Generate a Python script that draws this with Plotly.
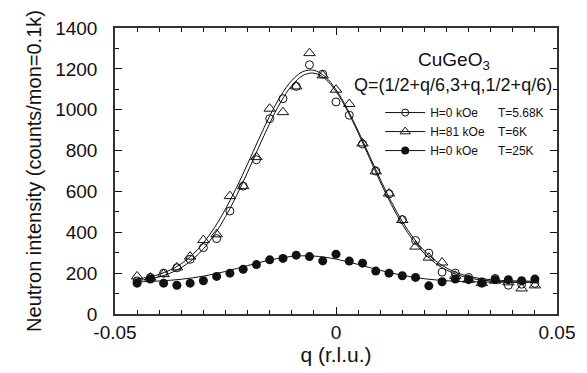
import plotly.graph_objects as go

# ---- data ----
q = [-0.045, -0.042, -0.039, -0.036, -0.033, -0.030, -0.027, -0.024, -0.021, -0.018,
     -0.015, -0.012, -0.009, -0.006, -0.003, 0.0, 0.003, 0.006, 0.009, 0.012,
     0.015, 0.018, 0.021, 0.024, 0.027, 0.030, 0.033, 0.036, 0.039, 0.042, 0.045]

h0_568K = [162, 179, 200, 226, 268, 325, 369, 504, 626, 755,
           956, 1054, 1114, 1220, 1174, 1038, 973, 832, 700, 588,
           462, 360, 298, 205, 200, 179, 158, 174, 141, 146, 150]

h81_6K = [184, 178, 195, 228, 281, 362, 390, 577, 626, 768,
          1005, 988, 1114, 1277, 1168, 1098, 1028, 835, 698, 590,
          460, 330, 276, 252, 187, 168, 151, 163, 155, 125, 140]

h0_25K = [151, 171, 151, 141, 151, 163, 184, 200, 219, 242,
          265, 272, 288, 281, 260, 293, 259, 249, 210, 200,
          187, 179, 138, 158, 171, 168, 151, 168, 168, 163, 171]

fit_q = [-0.045, -0.0425, -0.04, -0.0375, -0.035, -0.0325, -0.03, -0.0275, -0.025, -0.0225,
         -0.02, -0.0175, -0.015, -0.0125, -0.01, -0.0075, -0.005, -0.0025, 0.0, 0.0025,
         0.005, 0.0075, 0.01, 0.0125, 0.015, 0.0175, 0.02, 0.0225, 0.025, 0.0275,
         0.03, 0.0325, 0.035, 0.0375, 0.04, 0.0425, 0.045]

fit_h0_568K = [163.8, 170.7, 182.1, 200.0, 227.0, 265.7, 319.0, 389.0, 476.3, 579.4,
               694.3, 815.2, 933.2, 1037.6, 1118.5, 1167.6, 1179.2, 1152.3, 1089.6, 998.2,
               887.2, 767.0, 647.4, 536.3, 439.1, 358.9, 295.9, 248.7, 215.0, 191.9,
               176.9, 167.5, 161.9, 158.6, 156.8, 155.9, 155.4]

fit_h81_6K = [171.8, 180.4, 194.3, 215.4, 246.3, 289.7, 348.0, 422.6, 513.6, 619.2,
              735.1, 854.6, 968.9, 1068.1, 1143.1, 1186.3, 1193.0, 1162.7, 1098.3, 1006.7,
              896.8, 778.2, 660.1, 550.1, 453.3, 372.7, 308.9, 260.4, 225.2, 200.9,
              184.7, 174.4, 168.1, 164.3, 162.3, 161.1, 160.6]

fit_h0_25K = [157.5, 159.1, 161.6, 165.1, 170.1, 176.8, 185.4, 196.0, 208.4, 222.3,
              236.8, 251.1, 264.1, 274.6, 281.8, 284.9, 283.6, 278.0, 268.6, 256.5,
              242.6, 228.0, 213.8, 200.8, 189.5, 180.0, 172.6, 166.9, 162.8, 160.0,
              158.0, 156.8, 156.0, 155.6, 155.3, 155.1, 155.1]

x_ticks = [-0.05, 0, 0.05]
x_ticktext = ["-0.05", "0", "0.05"]

legend_names = ["H=0 kOe\u00a0\u00a0\u00a0\u00a0\u00a0\u00a0T=5.68K",
                "H=81 kOe\u00a0\u00a0\u00a0\u00a0T=6K",
                "H=0 kOe\u00a0\u00a0\u00a0\u00a0\u00a0\u00a0T=25K"]

FONT = "Liberation Sans, Arial, Helvetica, sans-serif"
INK = "#111111"

fig = go.Figure()

# fitted curves
for fy in (fit_h0_568K, fit_h81_6K, fit_h0_25K):
    fig.add_trace(go.Scatter(x=fit_q, y=fy, mode="lines", line=dict(color=INK, width=1, shape="spline"),
                             showlegend=False, hoverinfo="skip"))

# data points
marker_specs = [
    dict(symbol="circle-open", size=8, color=INK, line=dict(width=1, color=INK)),
    dict(symbol="triangle-up-open", size=10, color=INK, line=dict(width=1, color=INK)),
    dict(symbol="circle", size=9, color=INK, line=dict(width=0, color=INK)),
]
for ys, ms in zip((h0_568K, h81_6K, h0_25K), marker_specs):
    fig.add_trace(go.Scatter(x=q, y=ys, mode="markers", marker=ms, showlegend=False))

# legend entries (line + marker)
for name, ms in zip(legend_names, marker_specs):
    lm = dict(ms)
    lm["size"] = ms["size"] - 1
    fig.add_trace(go.Scatter(x=[None], y=[None], mode="lines+markers", name=name,
                             line=dict(color=INK, width=1), marker=lm))

fig.update_layout(
    width=587, height=373,
    margin=dict(l=115, r=22, t=28, b=58),
    paper_bgcolor="white", plot_bgcolor="white",
    font=dict(family=FONT, color=INK, size=18),
    legend=dict(x=0.60, y=0.755, xanchor="left", yanchor="top",
                bgcolor="rgba(0,0,0,0)", font=dict(size=12, family=FONT),
                itemwidth=40, tracegroupgap=0),
    annotations=[
        dict(text="CuGeO<sub>3</sub>", xref="paper", yref="paper", x=0.767, y=0.885,
             xanchor="center", yanchor="middle", showarrow=False, font=dict(size=19, family=FONT)),
        dict(text="Q=(1/2+q/6,3+q,1/2+q/6)", xref="paper", yref="paper", x=0.993, y=0.801,
             xanchor="right", yanchor="middle", showarrow=False, font=dict(size=18, family=FONT)),
    ],
)

fig.update_xaxes(
    range=[-0.05, 0.05], tickmode="array", tickvals=x_ticks, ticktext=x_ticktext,
    ticks="inside", ticklen=7, tickwidth=1.2, tickcolor=INK,
    minor=dict(tickmode="linear", tick0=-0.05, dtick=0.005, ticks="inside", ticklen=4,
               tickcolor=INK, tickwidth=1),
    showline=True, linecolor="#333333", linewidth=1.5, mirror="ticks",
    showgrid=False, zeroline=False,
    tickfont=dict(size=19), ticklabelstandoff=0,
    title=dict(text="q (r.l.u.)", font=dict(size=21), standoff=4),
)
fig.update_yaxes(
    range=[0, 1400], dtick=200, tick0=0,
    ticks="inside", ticklen=7, tickwidth=1.2, tickcolor=INK,
    minor=dict(dtick=100, ticks="inside", ticklen=4, tickcolor=INK, tickwidth=1),
    showline=True, linecolor="#333333", linewidth=1.5, mirror="ticks",
    showgrid=False, zeroline=False,
    tickfont=dict(size=19), ticklabelstandoff=12,
    title=dict(text="Neutron intensity (counts/mon=0.1k)", font=dict(size=20), standoff=8),
)

fig.write_html("out.html")
